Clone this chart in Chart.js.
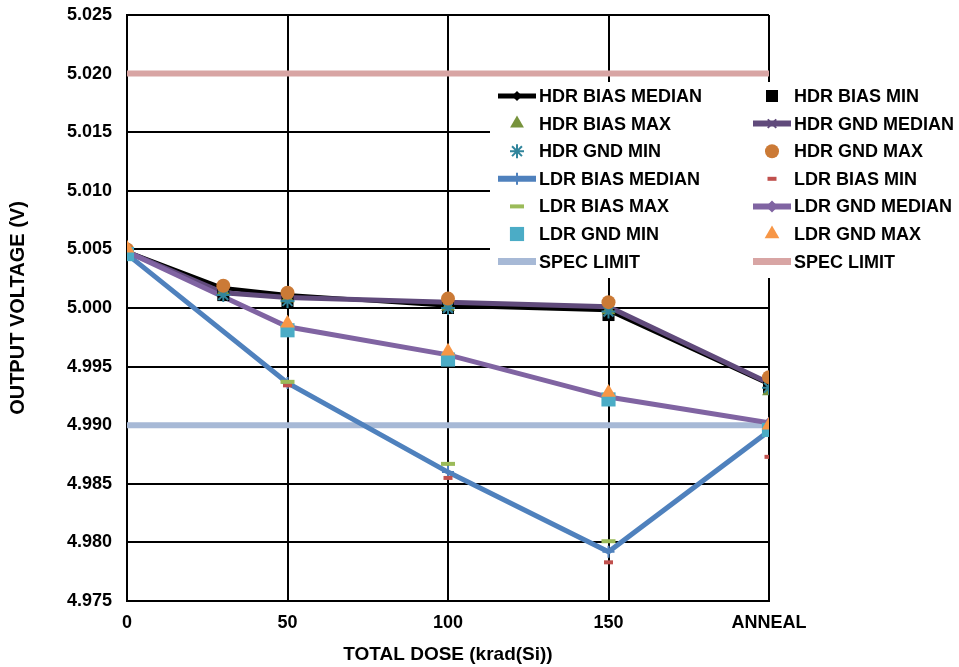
<!DOCTYPE html>
<html>
<head>
<meta charset="utf-8">
<title>Output voltage vs total dose</title>
<script src="https://cdn.jsdelivr.net/npm/chart.js@4.4.1/dist/chart.umd.min.js"></script>
<style>
  html, body { margin: 0; padding: 0; background: #fff; }
  #wrap { width: 959px; height: 667px; }
</style>
</head>
<body>
<div id="wrap"><canvas id="chart" width="959" height="667"></canvas></div>
<script>
// dose steps (krad(Si)); ANNEAL is plotted at the 200 slot
const doseHdr = [0, 30, 50, 100, 150, 200];
const doseLdr = [0, 50, 100, 150, 200];
const doseSpec = [0, 200];

const xTicks = [0, 50, 100, 150, 200];
const xTickLabels = ['0', '50', '100', '150', 'ANNEAL'];
const yTicks = [4.975, 4.980, 4.985, 4.990, 4.995, 5.000, 5.005, 5.010, 5.015, 5.020, 5.025];

// HDR values (V)
const hdrBiasMedian = [5.0048, 5.0017, 5.0011, 5.0002, 4.9998, 4.9935];
const hdrBiasMin    = [5.0046, 5.0011, 5.0005, 5.0000, 4.9994, 4.9932];
const hdrBiasMax    = [5.0049, 5.0014, 5.0008, 5.0001, 4.9998, 4.9929];
const hdrGndMedian  = [5.0048, 5.0013, 5.0009, 5.0005, 5.0001, 4.9936];
const hdrGndMin     = [5.0046, 5.0011, 5.0006, 5.0000, 4.9997, 4.9932];
const hdrGndMax     = [5.0050, 5.0019, 5.0013, 5.0008, 5.0005, 4.9941];

// LDR values (V)
const ldrBiasMedian = [5.0046, 4.9936, 4.9860, 4.9792, 4.9895];
const ldrBiasMin    = [5.0046, 4.9934, 4.9855, 4.9783, 4.9873];
const ldrBiasMax    = [5.0048, 4.9937, 4.9867, 4.9801, 4.9899];
const ldrGndMedian  = [5.0048, 4.9984, 4.9960, 4.9924, 4.9902];
const ldrGndMin     = [5.0046, 4.9981, 4.9956, 4.9922, 4.9896];
const ldrGndMax     = [5.0051, 4.9987, 4.9963, 4.9928, 4.9900];

// spec limits (V)
const specLow  = [4.990, 4.990];
const specHigh = [5.020, 5.020];

const FONT = "'Liberation Sans', Arial, sans-serif";
Chart.defaults.font.family = FONT;
Chart.defaults.font.weight = 'bold';
Chart.defaults.font.size = 18;
Chart.defaults.color = '#000';

function pts(xs, ys) {
    return xs.map(function (x, i) { return { x: x, y: ys[i] }; });
}

// line series: colour, width, marker
function lineSet(label, xs, ys, color, width, style, radius, bw, order) {
    return {
        label: label, data: pts(xs, ys), showLine: true,
        borderColor: color, backgroundColor: color, borderWidth: width,
        pointStyle: style, pointRadius: radius, pointBorderWidth: bw,
        pointBackgroundColor: color, pointBorderColor: color,
        order: order
    };
}

// marker-only series
function markSet(label, xs, ys, color, style, radius, bw, order) {
    return {
        label: label, data: pts(xs, ys), showLine: false,
        borderColor: color, backgroundColor: color,
        pointStyle: style, pointRadius: radius, pointBorderWidth: bw,
        pointBackgroundColor: color, pointBorderColor: color,
        order: order
    };
}

// legend order = dataset order; "order" only decides what sits on top
const datasets = [
    lineSet('HDR BIAS MEDIAN', doseHdr, hdrBiasMedian, '#000000', 4, 'rectRot', 5, 0, 12),
    markSet('HDR BIAS MIN', doseHdr, hdrBiasMin, '#000000', 'rect', 8.5, 0, 7),
    markSet('HDR BIAS MAX', doseHdr, hdrBiasMax, '#77933C', 'triangle', 8, 0, 6),
    lineSet('HDR GND MEDIAN', doseHdr, hdrGndMedian, '#604A7B', 5, 'crossRot', 6, 2, 11),
    markSet('HDR GND MIN', doseHdr, hdrGndMin, '#31859C', 'star', 7, 2, 5),
    markSet('HDR GND MAX', doseHdr, hdrGndMax, '#CB7A36', 'circle', 7, 0, 4),
    lineSet('LDR BIAS MEDIAN', doseLdr, ldrBiasMedian, '#4F81BD', 5, 'cross', 6, 2, 10),
    markSet('LDR BIAS MIN', doseLdr, ldrBiasMin, '#C0504D', 'line', 4.5, 4, 3),
    markSet('LDR BIAS MAX', doseLdr, ldrBiasMax, '#9BBB59', 'line', 7, 4, 2),
    lineSet('LDR GND MEDIAN', doseLdr, ldrGndMedian, '#8064A2', 5, 'rectRot', 6, 0, 9),
    markSet('LDR GND MIN', doseLdr, ldrGndMin, '#4BACC6', 'rect', 10, 0, 1),
    markSet('LDR GND MAX', doseLdr, ldrGndMax, '#F79646', 'triangle', 8.5, 0, 0),
    lineSet('SPEC LIMIT', doseSpec, specLow, '#A7B9D6', 6, 'circle', 0, 0, 14),
    lineSet('SPEC LIMIT', doseSpec, specHigh, '#D8A5A4', 6, 'circle', 0, 0, 13)
];

// legend in two columns inside the plot, on a white box
const boxLegend = {
    id: 'boxLegend',
    afterDraw: function (chart) {
        const ctx = chart.ctx;
        const a = chart.chartArea;
        const boxL = a.left + 363, boxT = a.top + 67;
        const col0 = a.left + 371;      // start of line sample
        const colW = 255;
        const rowY0 = a.top + 81;
        const rowH = 27.6;
        ctx.save();
        ctx.fillStyle = '#ffffff';
        ctx.fillRect(boxL, boxT, 460, 196);
        ctx.font = 'bold 18px ' + FONT;
        ctx.textBaseline = 'middle';
        chart.data.datasets.forEach(function (ds, i) {
            const x = col0 + (i % 2) * colW;
            const y = rowY0 + Math.floor(i / 2) * rowH;
            const mid = x + 19;
            if (ds.showLine) {
                ctx.strokeStyle = ds.borderColor;
                ctx.lineWidth = ds.borderWidth + 1;
                ctx.beginPath();
                ctx.moveTo(x, y);
                ctx.lineTo(x + 38, y);
                ctx.stroke();
            }
            if (ds.pointRadius > 0) {
                ctx.fillStyle = ds.pointBackgroundColor;
                ctx.strokeStyle = ds.pointBorderColor;
                ctx.lineWidth = ds.pointBorderWidth;
                Chart.helpers.drawPoint(ctx, {
                    pointStyle: ds.pointStyle, rotation: 0,
                    radius: ds.pointRadius, borderWidth: ds.pointBorderWidth
                }, mid, y);
            }
            ctx.fillStyle = '#000000';
            ctx.fillText(ds.label, x + 41, y + 1);
        });
        ctx.restore();
    }
};

new Chart(document.getElementById('chart'), {
    type: 'scatter',
    data: { datasets: datasets },
    plugins: [boxLegend],
    options: {
        responsive: false,
        animation: false,
        events: [],
        layout: { padding: { left: 0, right: 190, top: 15, bottom: 0 } },
        plugins: {
            legend: { display: false },
            tooltip: { enabled: false }
        },
        scales: {
            x: {
                type: 'linear',
                min: 0,
                max: 200,
                afterFit: function (scale) { scale.height = 66; },
                afterBuildTicks: function (scale) {
                    scale.ticks = xTicks.map(function (v) { return { value: v }; });
                },
                ticks: {
                    padding: 11,
                    autoSkip: false,
                    maxRotation: 0,
                    callback: function (v) { return xTickLabels[xTicks.indexOf(v)]; }
                },
                grid: { color: '#000', lineWidth: 2, drawTicks: false },
                border: { color: '#000', width: 2 },
                title: {
                    display: true,
                    text: 'TOTAL DOSE (krad(Si))',
                    font: { size: 19, weight: 'bold' },
                    padding: { top: 0, bottom: 1 }
                }
            },
            y: {
                min: 4.975,
                max: 5.025,
                afterFit: function (scale) {
                    scale.width = 127;
                    scale.paddingTop = 0;
                    scale.paddingBottom = 0;
                },
                afterBuildTicks: function (scale) {
                    scale.ticks = yTicks.map(function (v) { return { value: v }; });
                },
                ticks: {
                    padding: 15,
                    callback: function (v) { return v.toFixed(3); }
                },
                grid: { color: '#000', lineWidth: 2, drawTicks: false },
                border: { color: '#000', width: 2 },
                title: {
                    display: true,
                    text: 'OUTPUT VOLTAGE (V)',
                    font: { size: 20, weight: 'bold' },
                    padding: { top: 6, bottom: 0 }
                }
            }
        }
    }
});
</script>
</body>
</html>
